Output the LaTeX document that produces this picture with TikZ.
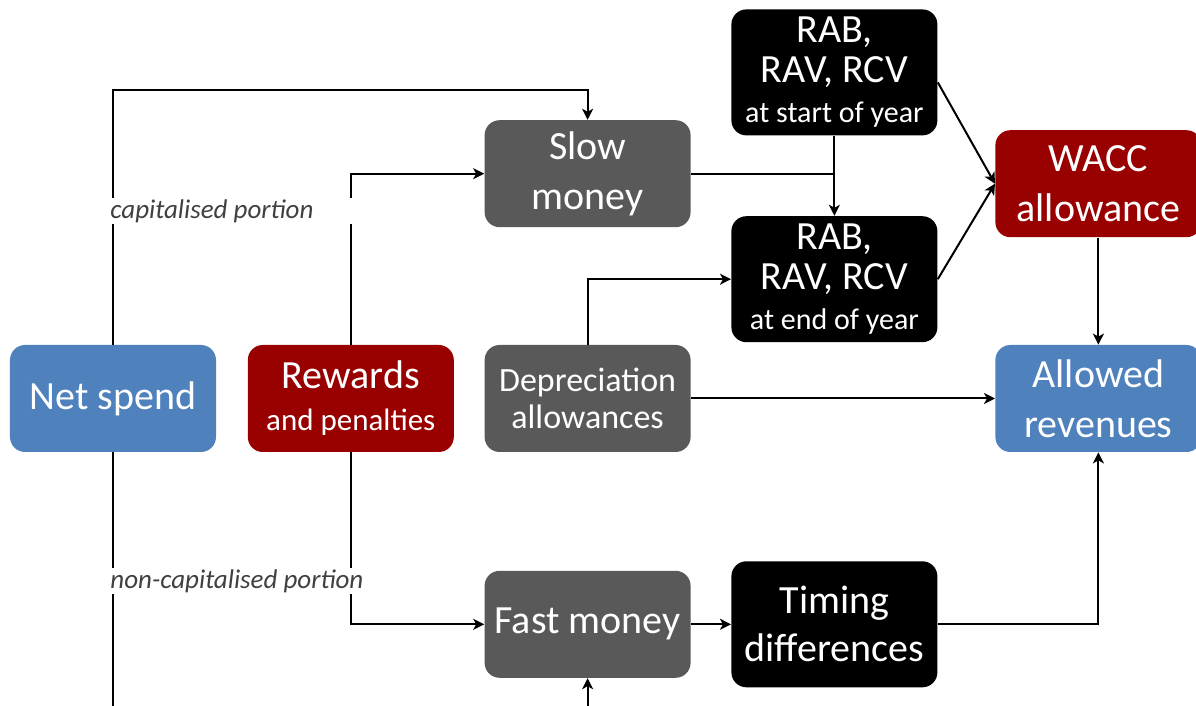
\documentclass[tikz,border=0pt]{standalone}
\usepackage{fontspec}
\setmainfont{Carlito}
\usetikzlibrary{arrows.meta, positioning, calc}
\definecolor{spendblue}{RGB}{79, 129, 189}
\definecolor{rewardred}{RGB}{153, 0, 0}
\definecolor{moneygrey}{RGB}{89, 89, 89}
\definecolor{labelgrey}{RGB}{64, 64, 64}

\begin{document}
\begin{tikzpicture}[
    node distance = 15pt and 15pt,
    font=\fontsize{20}{25}\selectfont,
    % Define styles
    box/.style = {rectangle, rounded corners=7.5pt, text=white, text width=100pt, align=flush center, minimum width=103pt, minimum height=53.5pt, inner sep=1pt},
    netbox/.style = {box, fill=spendblue},
    redbox/.style = {box, fill=rewardred},
    greybox/.style = {box, fill=moneygrey},
    rabbox/.style = {box, fill=black, minimum height=63pt, font=\fontsize{20}{20}\selectfont},
    link/.style = {line width=1pt},
    arrow/.style = {link, -{Stealth[length=5.5pt, width=5.5pt, inset=1.5pt]}},
    portion/.style = {fill=white, text=labelgrey, font=\fontsize{13.5}{13.5}\selectfont\itshape, anchor=west, text width=130pt, align=flush left, inner xsep=1pt, inner ysep=0pt, minimum height=13pt}
]
\useasboundingbox (-56.5pt,-153.75pt) rectangle (541.5pt,199.25pt);

% Nodes
\node [netbox] (net) at (0,0) {Net spend};
\node [redbox, right=15.5pt of net] (rewards) {Rewards\\[-4pt]{\fontsize{15.5}{19}\selectfont and penalties}};
\node [greybox, right=15pt of rewards, font=\fontsize{17}{18.5}\selectfont] (depr) {Depreciation\\allowances};
\node [greybox, above=58.5pt of depr] (slow) {Slow\\money};
\node [greybox, below=59pt of depr] (fast) {Fast money};
\node [rabbox, above right=1pt and 20pt of depr] (rabend) {RAB,\\RAV, RCV\\{\fontsize{15}{15}\selectfont at end of year}};
\node [rabbox, above=40pt of rabend] (rabstart) {RAB,\\RAV, RCV\\{\fontsize{15}{15}\selectfont at start of year}};
\node [rabbox, right=20pt of fast, font=\fontsize{20}{24}\selectfont] (timing) {Timing\\differences};
\node [netbox, right=152pt of depr] (revenues) {Allowed\\revenues};
\node [redbox, above=53.5pt of revenues] (wacc) {WACC\\allowance};

% Rails at top and bottom edge
\coordinate (toprail) at (0,154.25pt);
\coordinate (bottom) at (0,-153.75pt);

% Arrows
\draw [arrow] (net.north) -- (net.north |- toprail) -| (slow.north);
\draw [link] (net.south) -- (net.south |- bottom);
\draw [arrow] (rewards.north) |- (slow.west);
\draw [arrow] (rewards.south) |- (fast.west);
\draw [arrow] (fast.south |- bottom) -- (fast.south);
\draw [link] (slow.east) -- (slow.east -| rabstart.south);
\draw [arrow] (rabstart) -- (rabend);
\draw [arrow] (depr.north) |- (rabend.west);
\draw [arrow] (depr) -- (revenues);
\draw [arrow] ([yshift=-5pt]rabstart.east) -- (wacc.west);
\draw [arrow] (rabend.east) -- (wacc.west);
\draw [arrow] (wacc) -- (revenues);
\draw [arrow] (fast) -- (timing);
\draw [arrow] (timing.east) -| (revenues.south);

% Portion labels
\node [portion] (cap) at (-2.5pt,93.75pt) {capitalised portion};
\node [portion] (noncap) at (-2.5pt,-91.25pt) {non-capitalised portion};

\end{tikzpicture}
\end{document}
